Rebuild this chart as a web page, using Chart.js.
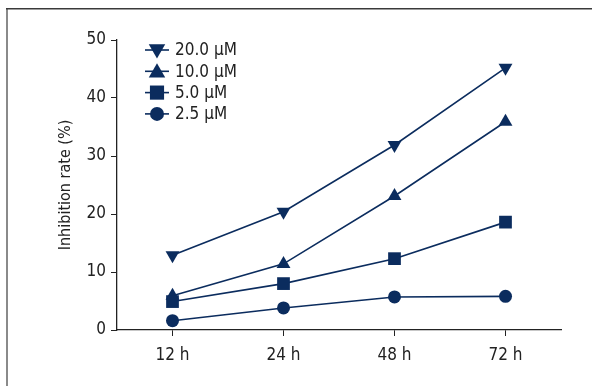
<!DOCTYPE html>
<html>
<head>
<meta charset="utf-8">
<script src="https://cdn.jsdelivr.net/npm/chart.js@4/dist/chart.umd.min.js"></script>
<style>
  html, body { margin: 0; padding: 0; background: #fff; }
  #wrap { width: 592px; height: 386px; }
</style>
</head>
<body>
<div id="wrap"><canvas id="lineChart"></canvas></div>
<script>
const timePoints = ['12 h', '24 h', '48 h', '72 h'];
const seriesLabels = ['20.0 μM', '10.0 μM', '5.0 μM', '2.5 μM'];
const rate20 = [12.9, 20.4, 31.9, 45.2];
const rate10 = [5.9, 11.4, 23.1, 35.9];
const rate5 = [4.9, 8.0, 12.3, 18.6];
const rate2_5 = [1.6, 3.8, 5.7, 5.8];
const yTicks = [0, 10, 20, 30, 40, 50];

const navy = '#0b2c5e';
const inkColor = '#222';
const fontFamily = "'Liberation Sans Narrow', 'DejaVu Sans Condensed', sans-serif";

const markers = [
    { style: 'triangle', rotation: 180, radius: 8, legendRadius: 9.5 },
    { style: 'triangle', rotation: 0, radius: 8, legendRadius: 9.5 },
    { style: 'rect', rotation: 0, radius: 9, legendRadius: 10 },
    { style: 'circle', rotation: 0, radius: 6.5, legendRadius: 7 }
];
const seriesValues = [rate20, rate10, rate5, rate2_5];

function drawMarker(ctx, style, rotation, r, x, y) {
    ctx.save();
    ctx.translate(x, y);
    ctx.rotate(rotation * Math.PI / 180);
    ctx.beginPath();
    if (style === 'circle') {
        ctx.arc(0, 0, r, 0, Math.PI * 2);
    } else if (style === 'rect') {
        const s = r * Math.SQRT1_2;
        ctx.rect(-s, -s, 2 * s, 2 * s);
    } else {
        for (let i = 0; i < 3; i++) {
            const a = -Math.PI / 2 + i * 2 * Math.PI / 3;
            const px = Math.cos(a) * r, py = Math.sin(a) * r;
            if (i === 0) ctx.moveTo(px, py); else ctx.lineTo(px, py);
        }
        ctx.closePath();
    }
    ctx.fillStyle = navy;
    ctx.fill();
    ctx.restore();
}

// page frame and legend drawn on the canvas
const framePlugin = {
    id: 'frame',
    beforeDraw(chart) {
        const ctx = chart.ctx;
        ctx.save();
        ctx.fillStyle = '#8a8a8a';
        ctx.fillRect(6, 8, 2, 378);
        ctx.fillStyle = '#3a3a3a';
        ctx.fillRect(6, 8, 586, 1.5);
        ctx.restore();
    }
};

const legendPlugin = {
    id: 'innerLegend',
    afterDraw(chart) {
        const ctx = chart.ctx;
        ctx.save();
        chart.data.datasets.forEach((ds, i) => {
            const y = 50 + i * 21.3;
            ctx.strokeStyle = navy;
            ctx.lineWidth = 1.6;
            ctx.beginPath();
            ctx.moveTo(145, y);
            ctx.lineTo(169, y);
            ctx.stroke();
            const m = markers[i];
            drawMarker(ctx, m.style, m.rotation, m.legendRadius, 157, y + (m.style === 'triangle' ? (m.rotation ? -1 : 1.5) : 0));
            ctx.fillStyle = inkColor;
            ctx.font = '17px ' + fontFamily;
            ctx.textBaseline = 'middle';
            ctx.textAlign = 'left';
            ctx.fillText(ds.label, 175, y + 1);
        });
        ctx.restore();
    }
};

new Chart(document.getElementById('lineChart'), {
    type: 'line',
    data: {
        labels: timePoints,
        datasets: seriesLabels.map((label, i) => ({
            label: label,
            data: seriesValues[i],
            borderColor: navy,
            backgroundColor: navy,
            borderWidth: 1.6,
            pointStyle: markers[i].style,
            rotation: markers[i].rotation,
            pointRadius: markers[i].radius,
            pointHoverRadius: markers[i].radius,
            pointBorderWidth: 0,
            tension: 0,
            order: 3 - i
        }))
    },
    options: {
        responsive: true,
        maintainAspectRatio: false,
        animation: false,
        events: [],
        layout: { padding: { left: 0, top: 40, right: 31, bottom: 0 } },
        plugins: {
            legend: { display: false },
            tooltip: { enabled: false }
        },
        scales: {
            x: {
                offset: true,
                grid: { display: true, drawOnChartArea: false, tickLength: 6, color: inkColor, tickColor: inkColor, offset: false },
                border: { display: true, color: inkColor, width: 1.3 },
                ticks: { color: inkColor, font: { family: fontFamily, size: 17 }, padding: 9 },
                afterFit(scale) { scale.height = 56; }
            },
            y: {
                min: 0,
                max: 50,
                afterBuildTicks(scale) { scale.ticks = yTicks.map(v => ({ value: v })); },
                grid: { display: true, drawOnChartArea: false, tickLength: 6, color: inkColor, tickColor: inkColor },
                border: { display: true, color: inkColor, width: 1.3 },
                ticks: { color: inkColor, font: { family: fontFamily, size: 17 }, padding: 5 },
                title: {
                    display: true,
                    text: 'Inhibition rate (%)',
                    color: inkColor,
                    font: { family: fontFamily, size: 16 },
                    padding: { top: 56 }
                },
                afterFit(scale) { scale.width = 117; }
            }
        }
    },
    plugins: [framePlugin, legendPlugin]
});
</script>
</body>
</html>
